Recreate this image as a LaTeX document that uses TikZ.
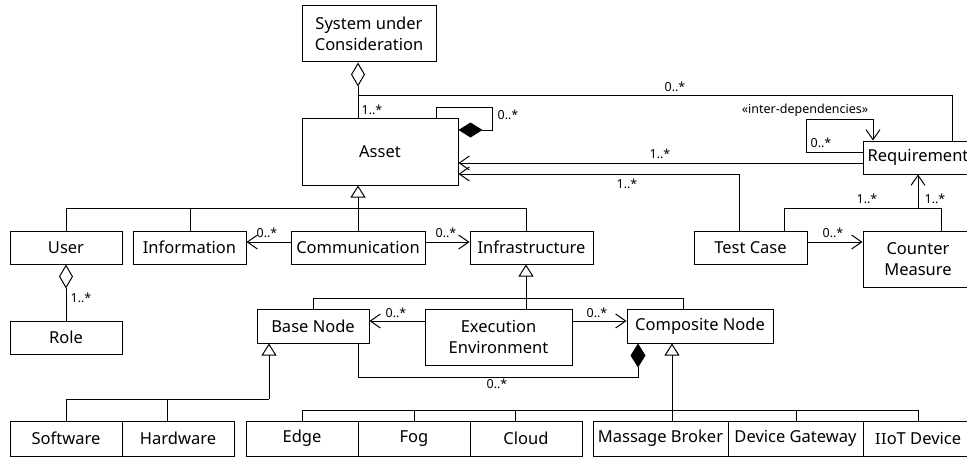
\documentclass[tikz,border=0pt]{standalone}
\usepackage{fontspec}
\setmainfont{Noto Sans}
\newfontfamily\serifI{DejaVu Serif}
\usetikzlibrary{arrows.meta}
\tikzset{
  box/.style={draw, line width=1pt, rectangle, inner sep=0pt, align=center,
    font=\fontsize{16.5}{21}\selectfont},
  lbl/.style={inner sep=0pt, font=\fontsize{12.5}{15}\selectfont},
  conn/.style={draw, line width=1pt},
  dep/.style={conn, -{Straight Barb[length=10pt,width=14pt,line width=1pt]}},
  gen/.style={conn, -{Triangle[open,length=12pt,width=15pt,fill=white,line width=1pt]}},
  aggr/.style={conn, -{Diamond[open,length=24pt,width=14pt,fill=white,line width=1pt]}},
  comps/.style={conn, -{Diamond[length=24pt,width=15pt,line width=1pt]}},
}
\begin{document}
\begin{tikzpicture}[x=1pt,y=-1pt]
\useasboundingbox (0,0) rectangle (967,460);
\clip (0,0) rectangle (967,460);
\fill[white] (0,0) rectangle (967,460);
% boxes
\node[box, minimum width=134pt, minimum height=56pt] (suc) at (369,34) {System under\\Consideration};
\node[box, minimum width=156pt, minimum height=67pt] (asset) at (380,151.5) {Asset};
\node[box, minimum width=112pt, minimum height=33pt] (user) at (66,247.5) {User};
\node[box, minimum width=113pt, minimum height=33pt] (info) at (189.5,247.5) {Information};
\node[box, minimum width=134pt, minimum height=33pt] (comm) at (358,247.5) {Communication};
\node[box, minimum width=123pt, minimum height=33pt] (infra) at (531.5,247.5) {Infrastructure};
\node[box, minimum width=113pt, minimum height=33pt] (tc) at (750.5,247.5) {Test Case};
\node[box, minimum width=110pt, minimum height=56pt] (cm) at (918,259) {Counter\\Measure};
\node[box, minimum width=110pt, minimum height=33pt] (req) at (918,157.5) {Requirement};
\node[box, minimum width=112pt, minimum height=33pt] (role) at (66,337.5) {Role};
\node[box, minimum width=112pt, minimum height=34pt] (base) at (313,326) {Base Node};
\node[box, minimum width=147pt, minimum height=56pt] (execenv) at (498.5,337) {Execution\\Environment};
\node[box, minimum width=146pt, minimum height=34pt] (comp) at (700,326) {Composite Node};
\node[box, minimum width=112pt, minimum height=35pt] (sw) at (66,438.5) {Software};
\node[box, minimum width=112pt, minimum height=35pt] (hw) at (178,438.5) {Hardware};
\node[box, minimum width=112pt, minimum height=35pt] (edge) at (302,438.5) {Edge};
\node[box, minimum width=112pt, minimum height=35pt] (fog) at (414,438.5) {Fog};
\node[box, minimum width=112pt, minimum height=35pt] (cloud) at (526,438.5) {Cloud};
\node[box, minimum width=135pt, minimum height=35pt] (broker) at (660.5,438.5) {Massage Broker};
\node[box, minimum width=135pt, minimum height=35pt] (gateway) at (795.5,438.5) {Device Gateway};
\node[box, minimum width=110pt, minimum height=35pt] (iiot) at (918,438.5) {{\serifI\fontsize{15}{18}\selectfont II}oT Device};
% junction coordinates
\coordinate (j1) at (358,96);
\coordinate (j2) at (918,208);
% SuC - Asset aggregation
\draw[aggr] (358,0 |- asset.north) -- (358,0 |- suc.south);
\node[lbl] (l1) at (372,110) {1..*};
% Asset - Requirement
\draw[conn] (j1) -- (952,96) -- (952,0 |- req.north);
\node[lbl] (l2) at (675,87) {0..*};
% Asset self composition
\draw[comps] (436,0 |- asset.north) -- (436,107) -- (492,107) -- (492,130) -- (asset.east |- 0,130);
\node[lbl] (l3) at (508,115) {0..*};
% Requirement -> Asset
\draw[dep] (req.west |- 0,163) -- (asset.east |- 0,163);
\node[lbl] (l4) at (660,154) {1..*};
% Test Case -> Asset
\draw[dep] (739,0 |- tc.north) -- (739,174) -- (asset.east |- 0,174);
\node[lbl] (l5) at (627,184) {1..*};
% Requirement self dependency
\draw[dep] (req.west |- 0,152) -- (806,152) -- (806,119) -- (873,119) -- (873,0 |- req.north);
\node[lbl] (l6) at (805,110) {«inter-dependencies»};
\node[lbl] (l7) at (821,143) {0..*};
% Test Case -> Counter Measure
\draw[dep] (tc.east |- 0,242) -- (cm.west |- 0,242);
\node[lbl] (l8) at (833,233) {0..*};
% Test Case / Counter Measure -> Requirement
\draw[conn] (784,0 |- tc.north) -- (784,208) -- (941,208) -- (941,0 |- cm.north);
\draw[dep] (j2) -- (req.south);
\node[lbl] (l9) at (867,199) {1..*};
\node[lbl] (l10) at (935,199) {1..*};
% Asset generalization
\draw[gen] (358,208) -- (358,0 |- asset.south);
\draw[conn] (user.north) -- (66,208) -- (526,208) -- (526,0 |- infra.north);
\draw[conn] (190,0 |- info.north) -- (190,208);
\draw[conn] (comm.north) -- (358,208);
% Communication -> Information / Infrastructure
\draw[dep] (comm.west |- 0,242) -- (info.east |- 0,242);
\node[lbl] (l11) at (267,233) {0..*};
\draw[dep] (comm.east |- 0,242) -- (infra.west |- 0,242);
\node[lbl] (l12) at (446,233) {0..*};
% User - Role aggregation
\draw[aggr] (role.north) -- (user.south);
\node[lbl] (l13) at (81,298) {1..*};
% Infrastructure generalization
\draw[gen] (526,0 |- execenv.north) -- (526,0 |- infra.south);
\draw[conn] (313,0 |- base.north) -- (313,298) -- (683,298) -- (683,0 |- comp.north);
% Execution Environment -> Base / Composite
\draw[dep] (execenv.west |- 0,321) -- (base.east |- 0,321);
\node[lbl] (l14) at (396,313) {0..*};
\draw[dep] (execenv.east |- 0,321) -- (comp.west |- 0,321);
\node[lbl] (l15) at (597,313) {0..*};
% Base - Composite composition
\draw[comps] (358,0 |- base.south) -- (358,377) -- (638,377) -- (638,0 |- comp.south);
\node[lbl] (l16) at (497,384) {0..*};
% Base Node generalization
\draw[gen] (269,399) -- (269,0 |- base.south);
\draw[conn] (66,0 |- sw.north) -- (66,399) -- (269,399);
\draw[conn] (167,0 |- hw.north) -- (167,399);
% Composite Node generalization
\draw[gen] (672,410) -- (672,0 |- comp.south);
\draw[conn] (302,0 |- edge.north) -- (302,410) -- (918,410) -- (918,0 |- iiot.north);
\draw[conn] (414,0 |- fog.north) -- (414,410);
\draw[conn] (515,0 |- cloud.north) -- (515,410);
\draw[conn] (672,0 |- broker.north) -- (672,410);
\draw[conn] (796,0 |- gateway.north) -- (796,410);
\end{tikzpicture}
\end{document}
